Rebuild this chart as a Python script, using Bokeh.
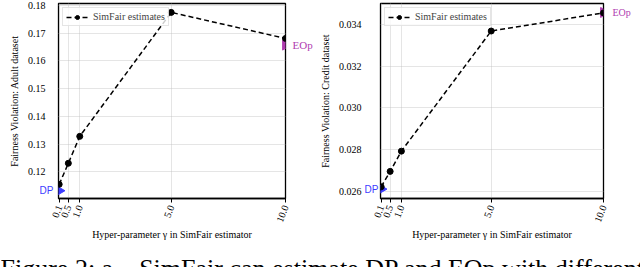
import math
from bokeh.plotting import figure
from bokeh.models import (Range1d, FixedTicker, NumeralTickFormatter, LinearAxis,
                          CustomJSTickFormatter, AllLabels, Label, Legend,
                          LegendItem)
from bokeh.layouts import column, row
from bokeh.embed import file_html
from bokeh.resources import INLINE

# ---------------- data ----------------
gamma = [0.1, 0.5, 1.0, 5.0, 10.0]
gamma_labels_fmt = "0.0"
adult_simfair = [0.1155, 0.1231, 0.1328, 0.1775, 0.1681]
credit_simfair = [0.02621, 0.02695, 0.02792, 0.03368, 0.03455]
adult_dp = [0.1132]
adult_eop = [0.1657]
credit_dp = [0.0261]
credit_eop = [0.03457]
adult_yticks = [0.12, 0.13, 0.14, 0.15, 0.16, 0.17, 0.18]
credit_yticks = [0.026, 0.028, 0.030, 0.032, 0.034]

SERIF = "Liberation Serif"
DP_COLOR = "#3c3cff"
EOP_COLOR = "#b03cb0"
DP_W = 14      # approx. width of the "DP" text


def text_axis(vals, text, color, font, size, standoff):
    return LinearAxis(ticker=FixedTicker(ticks=vals),
                      formatter=CustomJSTickFormatter(code="return '%s'" % text),
                      major_tick_in=0, major_tick_out=0,
                      minor_tick_line_color=None, axis_line_color=None,
                      major_label_standoff=standoff,
                      major_label_policy=AllLabels(),
                      major_label_text_color=color,
                      major_label_text_font=font,
                      major_label_text_font_size=size)


def panel(width, bl, br, yvals, dp, eop, yticks, yfmt, yrange, ylabel,
          dp_standoff, eop_standoff, label_gap, eop_size):
    p = figure(width=width, height=243, x_range=Range1d(0.07, 10.0),
               y_range=Range1d(*yrange), output_backend="svg",
               toolbar_location=None, min_border_left=bl, min_border_right=br,
               min_border_top=3, min_border_bottom=43)
    p.background_fill_color = "white"
    p.border_fill_color = "white"
    p.outline_line_color = "black"
    p.outline_line_width = 1.3

    xt = FixedTicker(ticks=gamma)
    yt = FixedTicker(ticks=yticks)
    for ax in p.xaxis:
        ax.ticker = xt
        ax.formatter = NumeralTickFormatter(format=gamma_labels_fmt)
        ax.major_label_orientation = 1.2
        ax.axis_label = "Hyper-parameter \u03b3 in SimFair estimator"
        ax.axis_label_standoff = 2
        ax.major_tick_out = 4
        ax.major_label_standoff = 3
        ax.axis_line_color = "black"
    for ax in p.yaxis:
        ax.ticker = yt
        ax.formatter = NumeralTickFormatter(format=yfmt)
        ax.axis_label = ylabel
        ax.axis_label_standoff = 5
        # this axis sits outside the DP text axis; pull its labels back in
        ax.major_tick_out = 0
        ax.axis_line_color = None
        ax.major_label_standoff = label_gap - (dp_standoff + DP_W)
    for ax in p.xaxis + p.yaxis:
        ax.major_label_text_font = SERIF
        ax.major_label_text_font_size = "10px"
        ax.major_label_text_color = "black"
        ax.axis_label_text_font = SERIF
        ax.axis_label_text_font_size = "10px"
        ax.axis_label_text_font_style = "normal"
        ax.axis_label_text_color = "black"
        ax.axis_line_width = 1.3
        ax.major_tick_in = 0
        ax.major_tick_line_color = "black"
        ax.minor_tick_line_color = None

    for g in (p.xgrid, p.ygrid):
        g.grid_line_color = "#bdbdbd"
        g.grid_line_dash = "1 1"
        g.grid_line_width = 0.8
    p.xgrid.ticker = xt
    p.ygrid.ticker = yt

    # reference markers
    p.scatter(x=[gamma[0]], y=dp, marker="triangle", angle=-math.pi / 2,
              size=10, color=DP_COLOR, line_color=DP_COLOR)
    p.scatter(x=[gamma[-1]], y=eop, marker="triangle", angle=-math.pi / 2,
              size=10, color=EOP_COLOR, line_color=EOP_COLOR)

    ln = p.line(gamma, yvals, line_color="black", line_width=1.5,
                line_dash="5 3")
    sc = p.scatter(gamma, yvals, size=6, color="black")

    leg = Legend(items=[LegendItem(label="SimFair estimates", renderers=[ln, sc])],
                 location="top_left", label_text_font=SERIF,
                 label_text_font_size="10px", background_fill_alpha=0.8,
                 border_line_color="#cccccc", border_line_width=1,
                 margin=4, padding=3, glyph_height=10, glyph_width=22,
                 label_height=10, label_standoff=5, spacing=0)
    p.add_layout(leg)

    # EOp / DP texts: single-tick axes right next to the frame
    p.add_layout(text_axis(eop, "EOp", EOP_COLOR, SERIF, eop_size,
                           eop_standoff), "right")
    dp_axis = text_axis(dp, "DP", DP_COLOR, "Liberation Sans", "10px",
                        dp_standoff)
    p.left = [dp_axis] + list(p.left)
    return p


p1 = panel(316, 58, 31, adult_simfair, adult_dp, adult_eop, adult_yticks,
           "0.00", (0.1104, 0.1807), "Fairness Violation: Adult dataset",
           5, 7, 10, "11px")
p2 = panel(324, 61, 37, credit_simfair, credit_dp, credit_eop, credit_yticks,
           "0.000", (0.02565, 0.0350), "Fairness Violation: Credit dataset",
           2, 9, 16, "10px")

cap = figure(width=640, height=24, output_backend="svg", toolbar_location=None,
             min_border=0, x_range=Range1d(0, 1), y_range=Range1d(0, 1))
cap.axis.visible = False
cap.grid.visible = False
cap.outline_line_color = None
cap.add_layout(Label(x=0, y=-1, x_units="screen", y_units="screen",
                     text="Figure 2: a \u2013 SimFair can estimate DP and EOp with different",
                     text_font=SERIF, text_font_size="26px", text_color="black",
                     text_baseline="alphabetic"))

layout = column(row(p1, p2), cap)
open("out.html", "w").write(file_html(layout, INLINE))
